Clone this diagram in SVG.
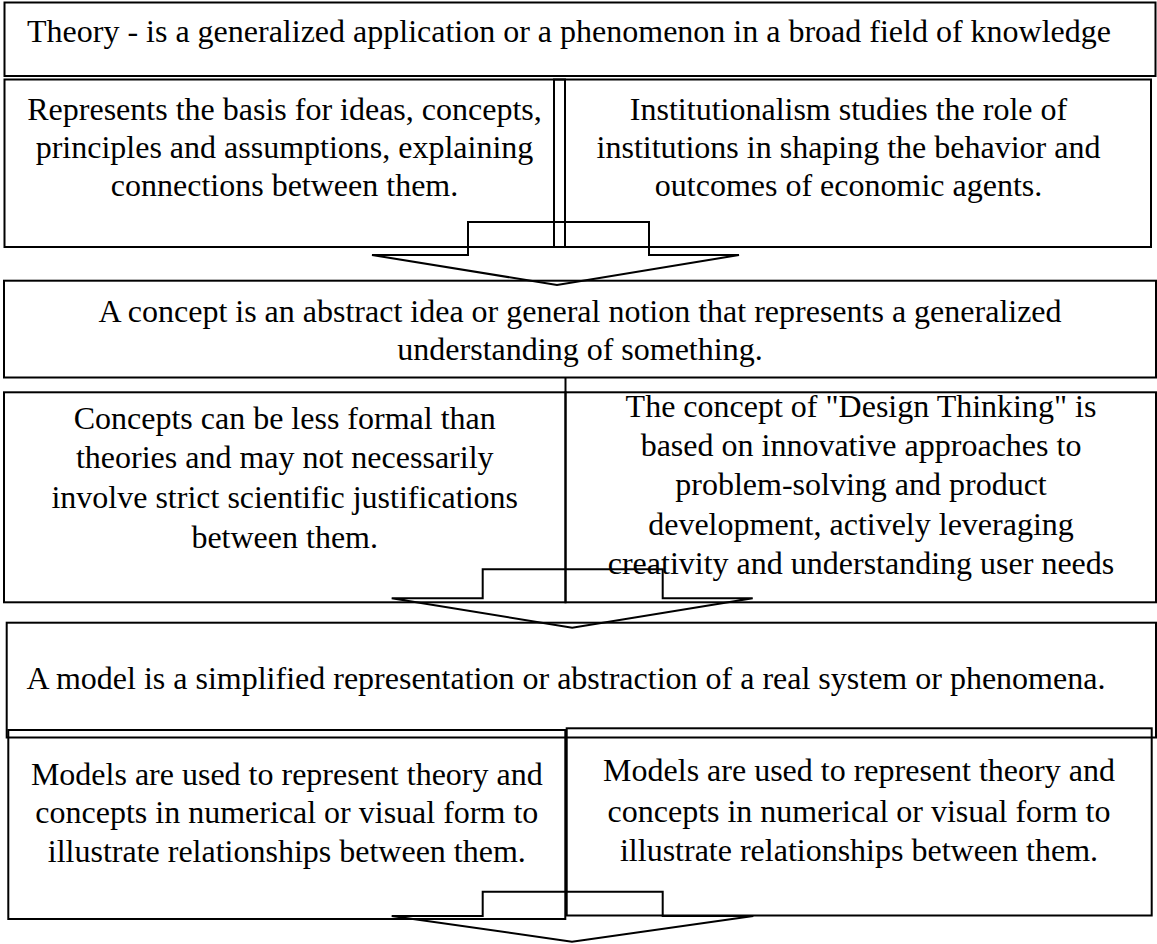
<svg xmlns="http://www.w3.org/2000/svg" width="1157" height="944" viewBox="0 0 1157 944">
  <style>
    .box { fill: none; stroke: #000; stroke-width: 2; }
    .t { font-size: 32px; fill: #000; text-anchor: middle; }
    .arrow { fill: none; stroke: #000; stroke-width: 2; stroke-linejoin: miter; }
  </style>
  <rect width="1157" height="944" fill="#fff"/>

  <g font-family="'Liberation Serif', 'Tinos', 'Noto Serif', 'DejaVu Serif', 'Times New Roman', Times, serif">
  <!-- Level 1: theory -->
  <g id="theory">
    <rect class="box" x="4.5" y="2.5" width="1151" height="73.5"/>
    <text class="t" x="569" y="42">Theory - is a generalized application or a phenomenon in a broad field of knowledge</text>
  </g>
  <g id="theory-basis">
    <rect class="box" x="4.5" y="79.5" width="560.5" height="167.5"/>
    <text class="t" x="284.5" y="120">Represents the basis for ideas, concepts,</text>
    <text class="t" x="284.5" y="158">principles and assumptions, explaining</text>
    <text class="t" x="284.5" y="196">connections between them.</text>
  </g>
  <g id="theory-institutionalism">
    <rect class="box" x="554" y="79.5" width="597" height="167.5"/>
    <text class="t" x="848.5" y="120">Institutionalism studies the role of</text>
    <text class="t" x="848.5" y="158">institutions in shaping the behavior and</text>
    <text class="t" x="848.5" y="196">outcomes of economic agents.</text>
  </g>

  <!-- Level 2: concept -->
  <g id="concept">
    <rect class="box" x="4" y="280.7" width="1152" height="96.8"/>
    <text class="t" x="580" y="321.7">A concept is an abstract idea or general notion that represents a generalized</text>
    <text class="t" x="580" y="360">understanding of something.</text>
  </g>
  <g id="concept-formality">
    <rect class="box" x="4" y="392.3" width="561.5" height="210"/>
    <text class="t" x="284.7" y="429.3">Concepts can be less formal than</text>
    <text class="t" x="284.7" y="468.3">theories and may not necessarily</text>
    <text class="t" x="284.7" y="508.3">involve strict scientific justifications</text>
    <text class="t" x="284.7" y="547.7">between them.</text>
  </g>
  <g id="concept-design-thinking">
    <rect class="box" x="565.5" y="392.3" width="590.5" height="210"/>
    <line class="box" x1="565.5" y1="377.5" x2="565.5" y2="392.3"/>
    <text class="t" x="861" y="416.7">The concept of "Design Thinking" is</text>
    <text class="t" x="861" y="456">based on innovative approaches to</text>
    <text class="t" x="861" y="495">problem-solving and product</text>
    <text class="t" x="861" y="535">development, actively leveraging</text>
    <text class="t" x="861" y="574.3">creativity and understanding user needs</text>
  </g>

  <!-- Level 3: model -->
  <g id="model">
    <rect class="box" x="6.7" y="622.7" width="1149.3" height="114.8"/>
    <text class="t" x="566" y="689.3">A model is a simplified representation or abstraction of a real system or phenomena.</text>
  </g>
  <g id="model-usage-left">
    <rect class="box" x="8.3" y="730" width="557" height="189"/>
    <text class="t" x="286.8" y="784.5">Models are used to represent theory and</text>
    <text class="t" x="286.8" y="822.7">concepts in numerical or visual form to</text>
    <text class="t" x="286.8" y="862">illustrate relationships between them.</text>
  </g>
  <g id="model-usage-right">
    <rect class="box" x="566.7" y="728.3" width="585" height="187.2"/>
    <text class="t" x="859" y="781">Models are used to represent theory and</text>
    <text class="t" x="859" y="821.5">concepts in numerical or visual form to</text>
    <text class="t" x="859" y="860.5">illustrate relationships between them.</text>
  </g>
  </g>

  <!-- Stepped block arrows between levels -->
  <g id="connectors">
    <polygon class="arrow" points="468,222 649,222 649,255 739,255 557,285 372,255 468,255"/>
    <polygon class="arrow" points="482.7,569.3 662.7,569.3 662.7,598.3 752.7,598.3 572.2,627.7 391.7,598.3 482.7,598.3"/>
    <polygon class="arrow" points="482.7,891.7 662.7,891.7 662.7,916 753.3,916 572,941.7 391.7,916 482.7,916"/>
  </g>
</svg>
